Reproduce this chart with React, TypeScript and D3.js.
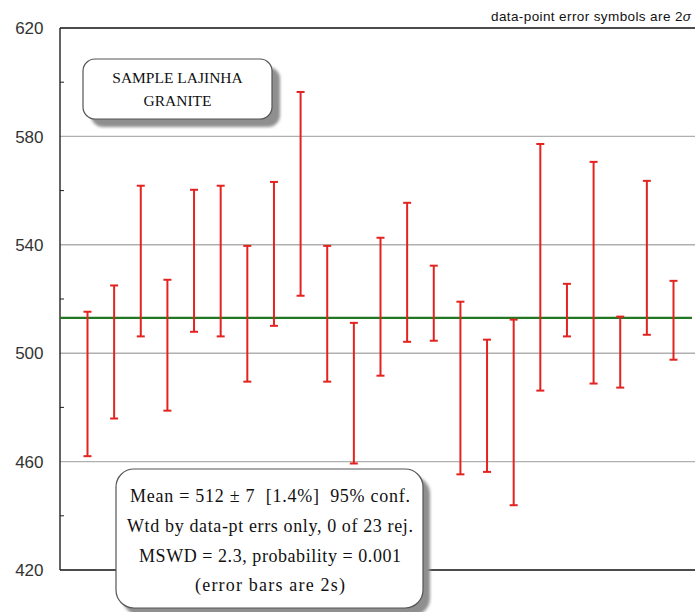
import React from "react";
import * as d3 from "d3";

const analyses = ["1","2","3","4","5","6","7","8","9","10","11","12","13","14","15","16","17","18","19","20","21","22","23"];
const upperValues = [515.3, 525.0, 561.8, 527.1, 560.3, 561.8, 539.6, 563.2, 596.4, 539.6, 511.2, 542.6, 555.5, 532.3, 519.0, 505.0, 512.4, 577.2, 525.6, 570.6, 513.5, 563.6, 526.7];
const lowerValues = [462.0, 475.9, 506.2, 478.8, 507.9, 506.2, 489.5, 510.1, 521.2, 489.5, 459.3, 491.7, 504.2, 504.6, 455.3, 456.2, 443.9, 486.2, 506.2, 488.8, 487.3, 506.8, 497.6];
const meanValue = 513;
const yTicks = [420, 460, 500, 540, 580, 620];
const yMinorTicks = [440, 480, 520, 560, 600];
const sampleLines = ["SAMPLE LAJINHA", "GRANITE"];
const statLines = [
  "Mean = 512 \u00b1 7  [1.4%]  95% conf.",
  "Wtd by data-pt errs only, 0 of 23 rej.",
  "MSWD = 2.3, probability = 0.001",
  "(error bars are 2s)",
];

export default function App() {
  const W = 695, H = 612;
  const left = 60, right = 695, top = 28, bottom = 570;
  const y = d3.scaleLinear().domain([420, 620]).range([bottom, top]);
  const x = d3.scaleLinear().domain([1, 23]).range([87.5, 673.5]);
  const capW = 4;
  const serif = "'Liberation Serif', 'Times New Roman', serif";
  const sans = "'Liberation Sans', Arial, sans-serif";
  const statWidths = [280, 286, 262, 150];
  const statCenter = 270;

  return (
    <svg width={W} height={H} style={{ position: "absolute", left: 0, top: 0, background: "#fff" }}>
      <defs>
        <filter id="blur" x="-10%" y="-10%" width="130%" height="130%">
          <feGaussianBlur stdDeviation="1.5" />
        </filter>
      </defs>
      {yTicks.filter(t => t !== 420 && t !== 620).map(t => (
        <line key={t} x1={left} x2={right} y1={y(t)} y2={y(t)} stroke="#b0b0b0" strokeWidth={1.4} />
      ))}
      {yMinorTicks.map(t => (
        <line key={t} x1={left} x2={left + 4} y1={y(t)} y2={y(t)} stroke="#222" strokeWidth={1} />
      ))}
      <line x1={left} x2={right} y1={top} y2={top} stroke="#111" strokeWidth={1.3} />
      <line x1={left} x2={right} y1={bottom} y2={bottom} stroke="#111" strokeWidth={1.3} />
      <line x1={left} x2={left} y1={top} y2={bottom} stroke="#111" strokeWidth={1.3} />
      {yTicks.map(t => (
        <text key={t} x={43.5} y={y(t)} dy="0.36em" textAnchor="end" fontFamily={sans} fontSize={17} fill="#333">{t}</text>
      ))}
      <text x={491} y={21} fontFamily={sans} fontSize={13.5} fill="#111" textLength={200} lengthAdjust="spacing">
        data-point error symbols are 2<tspan fontStyle="italic">{"\u03c3"}</tspan>
      </text>
      <line x1={left} x2={692} y1={y(meanValue)} y2={y(meanValue)} stroke="#217821" strokeWidth={2.2} />
      {analyses.map((a, i) => {
        const cx = x(i + 1);
        return (
          <g key={a} stroke="#e3231f" strokeWidth={2}>
            <line x1={cx} x2={cx} y1={y(upperValues[i])} y2={y(lowerValues[i])} />
            <line x1={cx - capW} x2={cx + capW} y1={y(upperValues[i])} y2={y(upperValues[i])} />
            <line x1={cx - capW} x2={cx + capW} y1={y(lowerValues[i])} y2={y(lowerValues[i])} />
          </g>
        );
      })}
      <rect x={91} y={67} width={189} height={60} rx={12} fill="#8f8f8f" filter="url(#blur)" />
      <rect x={83} y={59} width={189} height={60} rx={12} fill="#fff" stroke="#555" strokeWidth={1.2} />
      {sampleLines.map((s, i) => (
        <text key={s} x={177.5} y={83 + i * 23} textAnchor="middle" fontFamily={serif} fontSize={15.5} fill="#111">{s}</text>
      ))}
      <rect x={123} y={476} width={307} height={140} rx={18} fill="#8f8f8f" filter="url(#blur)" />
      <rect x={116} y={469} width={307} height={139} rx={18} fill="#fff" stroke="#555" strokeWidth={1.2} />
      {statLines.map((s, i) => (
        <text key={i} x={statCenter - statWidths[i] / 2} y={502 + i * 29.8} fontFamily={serif} fontSize={18} fill="#111"
          textLength={statWidths[i]} lengthAdjust="spacing" style={{ whiteSpace: "pre" }}>
          {s}
        </text>
      ))}
    </svg>
  );
}
